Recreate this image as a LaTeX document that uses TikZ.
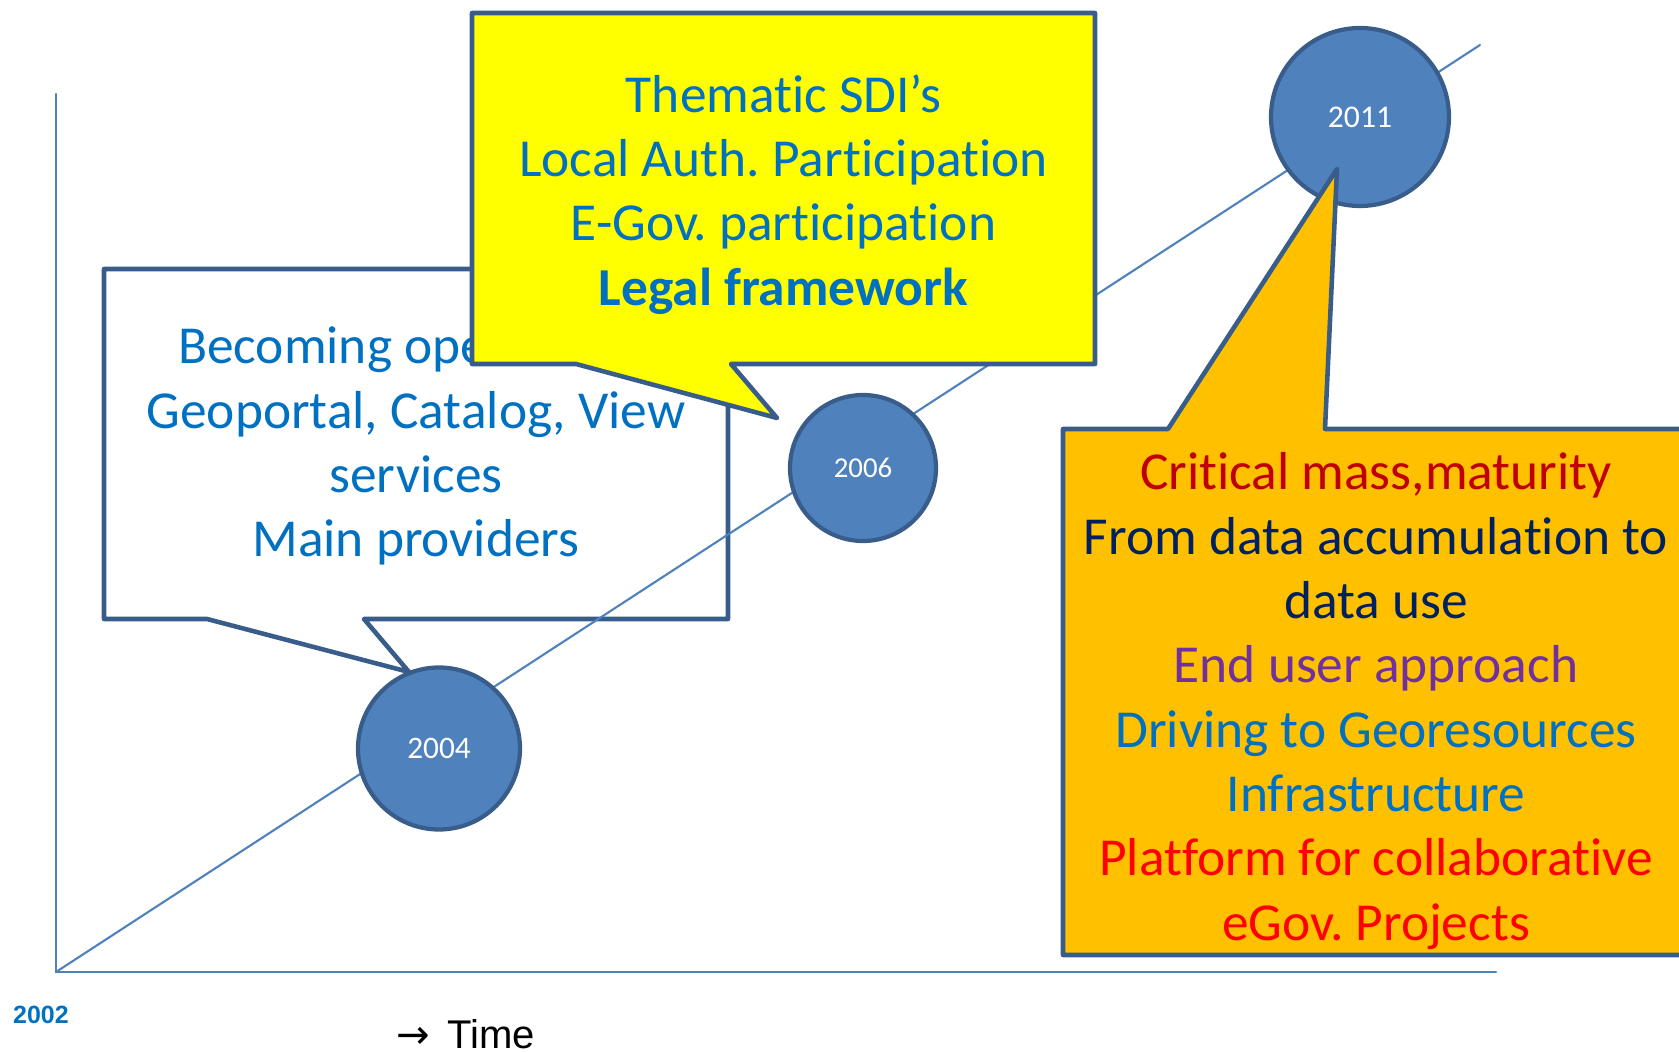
\documentclass[tikz,border=0pt]{standalone}
\usepackage{fontspec}
\setmainfont{Carlito}[Ligatures=NoCommon]
\newfontfamily\arialfont{Liberation Sans}
\newfontfamily\arrowfont{DejaVu Sans}
\usepackage{tkz-euclide}
\frenchspacing

\definecolor{outline}{HTML}{385D8A}
\definecolor{yearfill}{HTML}{4F81BD}
\definecolor{sdiblue}{HTML}{0070C0}
\definecolor{critred}{HTML}{C00000}
\definecolor{navyblue}{HTML}{002060}
\definecolor{userpurple}{HTML}{7030A0}
\definecolor{egovred}{HTML}{FF0000}
\definecolor{calloutorange}{HTML}{FFC000}
\definecolor{calloutyellow}{HTML}{FFFF00}

\tikzset{
  year/.style={circle, draw=outline, fill=yearfill, line width=1.2pt,
    text=white, inner sep=0pt},
  callout/.style={draw=outline, line width=1.3pt, line join=round},
  note/.style={align=center, text=sdiblue, yshift=-0.06cm,
    font=\fontsize{15.2}{18.3}\selectfont},
}

\begin{document}
\begin{tikzpicture}[semithick]
  \useasboundingbox (0,0) rectangle (16.79,10.53);

  % 2004 callout
  \tkzDefPoints{1.04/7.84/W1, 7.28/7.84/W2, 7.28/4.34/W3, 3.64/4.34/W4,
                4.09/3.81/W5, 2.07/4.34/W6, 1.04/4.34/W7}
  \tkzDrawPolygon[callout, fill=white](W1,W2,W3,W4,W5,W6,W7)
  \tkzDefMidPoint(W1,W3) \tkzGetPoint{w}
  \node[note, yshift=0.04cm] (opnote) at (w) {Becoming operational\\
    Geoportal, Catalog, View\\ services\\ Main providers};

  % axes and time line
  \tkzDefPoints{0.56/0.81/O, 0.56/9.59/T, 14.96/0.81/E, 14.80/10.08/D}
  \tkzDrawSegments[color=yearfill, line width=0.6pt](O,T O,E O,D)

  \node[year, minimum size=1.62cm, font=\fontsize{8.9}{10}\selectfont]
    (y2004) at (4.39,3.045) {2004};
  \node[year, minimum size=1.46cm, font=\fontsize{8.2}{10}\selectfont]
    (y2006) at (8.63,5.85) {2006};
  \node[year, minimum size=1.78cm, font=\fontsize{9}{10}\selectfont]
    (y2011) at (13.60,9.36) {2011};

  % 2006 callout
  \tkzDefPoints{4.72/10.40/Y1, 10.95/10.40/Y2, 10.95/6.89/Y3, 7.31/6.89/Y4,
                7.77/6.35/Y5, 5.76/6.89/Y6, 4.72/6.89/Y7}
  \tkzDrawPolygon[callout, fill=calloutyellow](Y1,Y2,Y3,Y4,Y5,Y6,Y7)
  \tkzDefMidPoint(Y1,Y3) \tkzGetPoint{y}
  \node[note] (sdinote) at (y) {Thematic SDI’s\\ Local Auth. Participation\\
    E-Gov. participation\\ \textbf{Legal framework}};

  % 2011 callout
  \tkzDefPoints{10.63/6.24/R1, 11.68/6.24/R2, 13.37/8.84/R3, 13.25/6.24/R4,
                16.89/6.24/R5, 16.89/0.98/R6, 10.63/0.98/R7}
  \tkzDrawPolygon[callout, fill=calloutorange](R1,R2,R3,R4,R5,R6,R7)
  \tkzDefMidPoint(R1,R6) \tkzGetPoint{r}
  \node[note, yshift=-0.03cm] (usenote) at (r) {\textcolor{critred}{Critical mass,maturity}\\
    \textcolor{navyblue}{From data accumulation to}\\
    \textcolor{navyblue}{data use}\\
    \textcolor{userpurple}{End user approach}\\
    Driving to Georesources\\ Infrastructure\\
    \textcolor{egovred}{Platform for collaborative}\\
    \textcolor{egovred}{eGov. Projects}};

  \node[text=sdiblue, font=\arialfont\bfseries\fontsize{7.1}{8}\selectfont]
    (start) at (0.41,0.38) {2002};
  \node[anchor=base west, inner sep=0pt,
    font=\arialfont\fontsize{11.4}{13}\selectfont] (time) at (3.95,0.05)
    {{\arrowfont →}\, Time};
\end{tikzpicture}
\end{document}
